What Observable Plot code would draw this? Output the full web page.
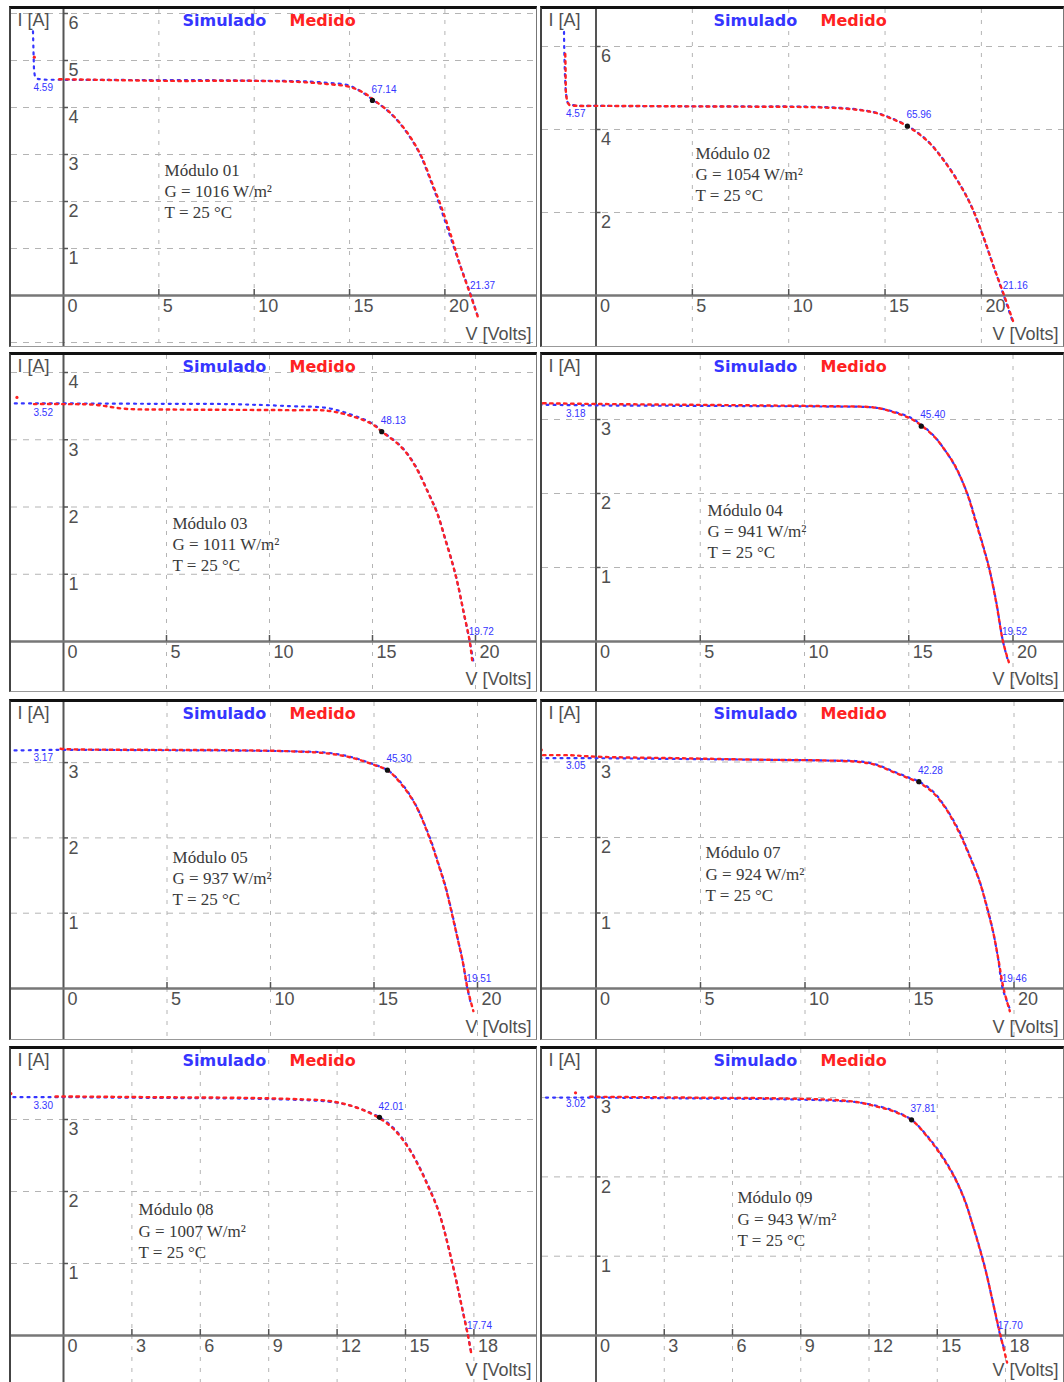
<!DOCTYPE html>
<html><head><meta charset="utf-8">
<script src="https://cdn.jsdelivr.net/npm/d3@7"></script>
<script src="https://cdn.jsdelivr.net/npm/@observablehq/plot@0.6"></script>
<style>
body{margin:0;background:#fff;}
#wrap{position:relative;width:1064px;height:1382px;overflow:hidden;background:#fff;}
.panel{position:absolute;box-sizing:border-box;border-top:3px solid #111;border-left:2px solid #444;border-right:1px solid #777;border-bottom:1px solid #999;background:#fff;overflow:hidden}
.panel svg{display:block}
</style></head><body><div id="wrap"></div>
<script>
// ---------------- DATA ----------------
const modules = ["01","02","03","04","05","07","08","09"];
const irradiance = [1016,1054,1011,941,937,924,1007,943];
const temperature = [25,25,25,25,25,25,25,25];
const iscValues = [4.59,4.57,3.52,3.18,3.17,3.05,3.30,3.02];
const pmaxValues = [67.14,65.96,48.13,45.40,45.30,42.28,42.01,37.81];
const vocValues = [21.37,21.16,19.72,19.52,19.51,19.46,17.74,17.70];
const vmpValues = [16.2,16.16,15.45,15.6,15.65,15.45,13.86,13.87];
const impValues = [4.15,4.08,3.12,2.91,2.9,2.74,3.03,2.72];
const xTickSets = [[0,5,10,15,20],[0,5,10,15,20],[0,5,10,15,20],[0,5,10,15,20],[0,5,10,15,20],[0,5,10,15,20],[0,3,6,9,12,15,18],[0,3,6,9,12,15,18]];
const yTickSets = [[1,2,3,4,5,6],[2,4,6],[1,2,3,4],[1,2,3],[1,2,3],[1,2,3],[1,2,3],[1,2,3]];
const noteV = [5.3,5.16,5.29,5.35,5.27,5.24,3.29,6.22];
const noteI = [2.66,3.42,1.75,1.77,1.74,1.79,1.74,1.73];

// simulated (Simulado) [V, I]
const sim01 = [[-1.6,5.62],[-1.58,5.3],[-1.56,5.0],[-1.53,4.75],[-1.45,4.63],[-1.2,4.6],[0,4.59],[4,4.585],[8,4.58],[10,4.57],[12.3,4.56],[13.7,4.53],[14.95,4.47],[15.6,4.34],[16.2,4.17],[17.0,3.93],[17.6,3.68],[18.2,3.35],[18.7,3.0],[19.2,2.5],[19.7,1.95],[20.2,1.35],[20.75,0.7],[21.37,0],[21.74,-0.46]];
const sim02 = [[-1.66,6.35],[-1.65,6.0],[-1.63,5.6],[-1.6,5.2],[-1.55,4.85],[-1.45,4.64],[-1.1,4.58],[0,4.57],[4,4.56],[8,4.555],[11,4.55],[12.7,4.52],[13.8,4.47],[14.5,4.41],[15.4,4.26],[16.16,4.09],[17.2,3.73],[18.07,3.25],[18.97,2.61],[19.5,2.13],[20.04,1.49],[20.58,0.77],[21.16,0],[21.6,-0.6]];
const sim03 = [[-2.7,3.54],[-1.5,3.54],[0,3.54],[4,3.535],[8,3.53],[11,3.5],[12.84,3.47],[14.0,3.37],[15.0,3.24],[15.45,3.13],[16.36,2.91],[17.03,2.64],[17.7,2.22],[18.12,1.93],[18.53,1.53],[18.87,1.18],[19.12,0.88],[19.4,0.47],[19.72,0],[19.9,-0.3]];
const sim04 = [[-2.7,3.2],[0,3.19],[4,3.185],[8,3.18],[11,3.175],[13.4,3.16],[14.22,3.11],[15.05,3.03],[15.6,2.93],[16.2,2.78],[16.7,2.6],[17.2,2.38],[17.78,2.02],[18.19,1.66],[18.52,1.34],[18.85,1.0],[19.18,0.56],[19.52,0],[19.75,-0.25]];
const sim05 = [[-2.7,3.16],[-1.5,3.165],[0,3.17],[4,3.165],[8,3.16],[11,3.15],[12.78,3.13],[13.95,3.07],[14.95,2.98],[15.65,2.9],[16.28,2.74],[16.95,2.47],[17.7,2.0],[18.1,1.67],[18.44,1.37],[18.78,0.99],[19.03,0.68],[19.28,0.37],[19.51,0],[19.7,-0.22]];
const sim06 = [[-2.7,3.05],[0,3.05],[4,3.04],[8,3.03],[11,3.02],[12.54,3.01],[13.36,2.97],[14.19,2.88],[15.0,2.79],[15.45,2.74],[16.09,2.62],[16.67,2.42],[17.33,2.11],[17.82,1.8],[18.32,1.45],[18.65,1.14],[18.97,0.79],[19.22,0.43],[19.46,0],[19.8,-0.27]];
const sim07 = [[-2.5,3.31],[-1,3.31],[0,3.31],[4,3.3],[8,3.29],[10.5,3.27],[11.6,3.25],[12.36,3.21],[13.1,3.14],[13.86,3.03],[14.48,2.88],[15.08,2.64],[15.55,2.38],[16.0,2.08],[16.37,1.8],[16.65,1.52],[16.92,1.18],[17.2,0.8],[17.45,0.43],[17.74,0],[17.86,-0.2]];
const sim08 = [[-2.5,3.0],[-1,3.0],[0,3.0],[4,2.99],[8,2.98],[10.5,2.96],[11.52,2.94],[12.28,2.9],[13.03,2.84],[13.87,2.72],[14.55,2.52],[15.16,2.29],[15.76,2.0],[16.22,1.7],[16.52,1.43],[16.83,1.14],[17.13,0.82],[17.43,0.44],[17.77,0],[17.96,-0.18]];

// measured (Medido) [V, I]
const med01 = [[-0.4,4.6],[0,4.6],[3,4.58],[6,4.565],[9,4.57],[11,4.56],[12.5,4.54],[13.8,4.5],[15.0,4.44],[15.8,4.3],[16.3,4.15],[17.1,3.9],[17.7,3.64],[18.3,3.3],[18.8,2.93],[19.3,2.42],[19.8,1.9],[20.3,1.3],[20.8,0.64],[21.35,0],[21.78,-0.52]];
const med02 = [[-1.6,5.9],[-1.58,5.5],[-1.57,5.1],[-1.54,4.8],[-1.4,4.6],[-1,4.57],[0,4.57],[4,4.56],[8,4.55],[11,4.54],[12.7,4.51],[13.8,4.46],[14.6,4.39],[15.5,4.23],[16.2,4.07],[17.25,3.7],[18.1,3.22],[19.0,2.58],[19.55,2.08],[20.1,1.42],[20.62,0.72],[21.18,0],[21.66,-0.64]];
const med03 = [[-1.6,3.53],[0,3.53],[1.5,3.52],[3,3.46],[5,3.45],[8,3.445],[11,3.44],[12.84,3.43],[14.0,3.35],[15.0,3.23],[15.5,3.11],[16.4,2.89],[17.05,2.62],[17.72,2.2],[18.15,1.9],[18.55,1.5],[18.9,1.14],[19.15,0.84],[19.42,0.44],[19.72,0],[19.85,-0.32]];
const med04 = [[-2.7,3.22],[0,3.21],[4,3.2],[8,3.19],[11,3.18],[13.4,3.16],[14.25,3.1],[15.1,3.01],[15.6,2.92],[16.25,2.76],[16.75,2.58],[17.25,2.36],[17.8,2.0],[18.2,1.63],[18.55,1.3],[18.88,0.96],[19.2,0.52],[19.52,0],[19.8,-0.28]];
const med05 = [[-0.3,3.19],[0,3.18],[4,3.17],[8,3.165],[11,3.15],[12.8,3.12],[14.0,3.06],[15.0,2.97],[15.7,2.89],[16.3,2.72],[17.0,2.44],[17.72,1.97],[18.12,1.64],[18.46,1.34],[18.8,0.95],[19.05,0.65],[19.3,0.34],[19.52,0],[19.8,-0.3]];
const med06 = [[-2.7,3.09],[-1.3,3.09],[0,3.07],[4,3.05],[8,3.03],[11,3.02],[12.6,3.0],[13.4,2.96],[14.2,2.87],[15.0,2.78],[15.5,2.72],[16.1,2.6],[16.7,2.4],[17.35,2.08],[17.85,1.77],[18.35,1.42],[18.68,1.1],[19.0,0.75],[19.25,0.39],[19.5,0],[19.8,-0.3]];
const med07 = [[-0.5,3.32],[0,3.32],[4,3.31],[8,3.3],[10.5,3.28],[11.6,3.26],[12.4,3.21],[13.15,3.13],[13.9,3.01],[14.5,2.86],[15.1,2.62],[15.58,2.35],[16.02,2.05],[16.4,1.77],[16.68,1.48],[16.95,1.14],[17.22,0.77],[17.47,0.4],[17.74,0],[17.9,-0.28]];
const med08 = [[-0.4,3.01],[0,3.01],[4,3.0],[8,2.99],[10.5,2.97],[11.55,2.94],[12.3,2.89],[13.05,2.83],[13.9,2.71],[14.58,2.5],[15.2,2.26],[15.8,1.97],[16.25,1.67],[16.55,1.4],[16.86,1.1],[17.16,0.78],[17.46,0.4],[17.78,0],[18.07,-0.34]];
// isolated measured points
const medExtra = [[[-1.53,5.07]],[],[[-2.26,3.63]],[],[],[[-2.62,3.16]],[[-2.31,3.36]],[[-0.9,3.06]]];

const simSeries = [sim01,sim02,sim03,sim04,sim05,sim06,sim07,sim08];
const medSeries = [med01,med02,med03,med04,med05,med06,med07,med08];

// ---------------- LAYOUT (page pixels, not data) ----------------
const layout = [
 {left:9,   top:6,    w:528, h:341, ax:63,    ppv:19.07, ay:295,  ppa:47},
 {left:540, top:6,    w:524, h:341, ax:595.5, ppv:19.27, ay:295,  ppa:41.5},
 {left:9,   top:352,  w:528, h:340, ax:63,    ppv:20.6,  ay:641,  ppa:67.25},
 {left:540, top:352,  w:524, h:340, ax:595.5, ppv:20.85, ay:641,  ppa:74},
 {left:9,   top:699,  w:528, h:341, ax:63,    ppv:20.7,  ay:988,  ppa:75.3},
 {left:540, top:699,  w:524, h:341, ax:595.5, ppv:20.9,  ay:988,  ppa:75.5},
 {left:9,   top:1046, w:528, h:341, ax:63,    ppv:22.8,  ay:1335, ppa:72},
 {left:540, top:1046, w:524, h:341, ax:595.5, ppv:22.75, ay:1335, ppa:79.3}
];

const BLUE = "#3535ff", RED = "#ff2222";
const SANS = "'Liberation Sans', Arial, sans-serif";
const wrap = document.getElementById("wrap");

layout.forEach((L, k) => {
  const iw = L.w - 3, ih = L.h - 4;
  const axRel = L.ax - L.left - 2, ayRel = L.ay - L.top - 3;
  const xDom = [-axRel / L.ppv, (iw - axRel) / L.ppv];
  const yDom = [-(ih - ayRel) / L.ppa, ayRel / L.ppa];
  const xt = xTickSets[k], yt = yTickSets[k];
  const step = yt[1] - yt[0];
  const gridY = yt.concat(d3.range(-step, yDom[0], -step));
  const gridX = xt.filter(v => v !== 0);
  const sim = simSeries[k].map(([V, I]) => ({V, I}));
  const med = medSeries[k].map(([V, I]) => ({V, I}));
  const extra = medExtra[k].map(([V, I]) => ({V, I}));
  const innerBottom = L.top + 3 + ih;
  const voltsDy = Math.min(innerBottom - 12, 1370) - innerBottom;

  const plot = Plot.plot({
    width: iw, height: ih,
    marginLeft: 0, marginRight: 0, marginTop: 0, marginBottom: 0,
    x: {domain: xDom, axis: null},
    y: {domain: yDom, axis: null},
    style: {background: "#fff", fontFamily: SANS},
    marks: [
      Plot.ruleY(gridY, {y: d => d, stroke: "#b4b4b4", strokeWidth: 1, strokeDasharray: "6,6"}),
      Plot.ruleX(gridX, {x: d => d, stroke: "#b4b4b4", strokeWidth: 1, strokeDasharray: "4,7"}),
      Plot.ruleX([0], {x: d => d, stroke: "#555", strokeWidth: 2}),
      Plot.ruleY([0], {y: d => d, stroke: "#777", strokeWidth: 2.5}),
      Plot.ruleY(yt, {y: d => d, x1: 0, x2: 5 / L.ppv, stroke: "#555", strokeWidth: 1.5}),
      Plot.ruleX(gridX, {x: d => d, y1: 0, y2: 6 / L.ppa, stroke: "#555", strokeWidth: 1.5}),
      Plot.text(xt, {x: d => d, y: 0, text: d => String(d), textAnchor: "start", lineAnchor: "middle", dx: 4, dy: 11, fontSize: 18, fill: "#505050"}),
      Plot.text(yt, {x: 0, y: d => d, text: d => String(d), textAnchor: "start", lineAnchor: "middle", dx: 5, dy: 10, fontSize: 18, fill: "#505050"}),
      Plot.text(["I [A]"], {frameAnchor: "top-left", text: d => d, textAnchor: "start", lineAnchor: "middle", dx: 6, dy: 11, fontSize: 18, fill: "#505050"}),
      Plot.text(["V [Volts]"], {frameAnchor: "bottom-right", text: d => d, textAnchor: "end", lineAnchor: "middle", dx: -5, dy: voltsDy, fontSize: 18, fill: "#505050"}),
      Plot.text(["Simulado"], {frameAnchor: "top-left", text: d => d, textAnchor: "start", lineAnchor: "middle", dx: 171, dy: 11, fontSize: 16, fontWeight: "bold", fontFamily: "'DejaVu Sans', sans-serif", fill: BLUE}),
      Plot.text(["Medido"], {frameAnchor: "top-left", text: d => d, textAnchor: "start", lineAnchor: "middle", dx: 278, dy: 11, fontSize: 16, fontWeight: "bold", fontFamily: "'DejaVu Sans', sans-serif", fill: RED}),
      Plot.text([`Módulo ${modules[k]}\nG = ${irradiance[k]} W/m²\nT = ${temperature[k]} °C`], {x: noteV[k], y: noteI[k], text: d => d, textAnchor: "start", lineAnchor: "top", dy: -10, lineHeight: 1.25, fontSize: 17, fontFamily: "'Liberation Serif', 'Times New Roman', serif", fill: "#3a3a3a"}),
      Plot.line(sim, {x: "V", y: "I", curve: "catmull-rom", stroke: BLUE, strokeWidth: 2.2, strokeDasharray: "2,5", clip: true}),
      Plot.line(med, {x: "V", y: "I", curve: "catmull-rom", stroke: RED, strokeWidth: 2.4, strokeDasharray: "2.5,4.5", strokeDashoffset: 3.5, clip: true}),
      Plot.dot(extra, {x: "V", y: "I", r: 1.6, fill: RED, stroke: "none"}),
      Plot.dot([0], {x: () => vmpValues[k], y: () => impValues[k], r: 2.6, fill: "#111", stroke: "none"}),
      Plot.text([iscValues[k]], {x: 0, y: d => d, text: d => d.toFixed(2), textAnchor: "start", lineAnchor: "middle", dx: -30, dy: 8, fontSize: 10, fill: BLUE}),
      Plot.text([pmaxValues[k]], {x: () => vmpValues[k], y: () => impValues[k], text: d => d.toFixed(2), textAnchor: "start", lineAnchor: "middle", dx: -1, dy: -11, fontSize: 10, fill: BLUE}),
      Plot.text([vocValues[k]], {x: d => d, y: 0, text: d => d.toFixed(2), textAnchor: "start", lineAnchor: "middle", dx: -1, dy: -10, fontSize: 10, fill: BLUE})
    ]
  });
  const div = document.createElement("div");
  div.className = "panel";
  div.style.left = L.left + "px";
  div.style.top = L.top + "px";
  div.style.width = L.w + "px";
  div.style.height = L.h + "px";
  div.appendChild(plot);
  wrap.appendChild(div);
});
</script></body></html>
